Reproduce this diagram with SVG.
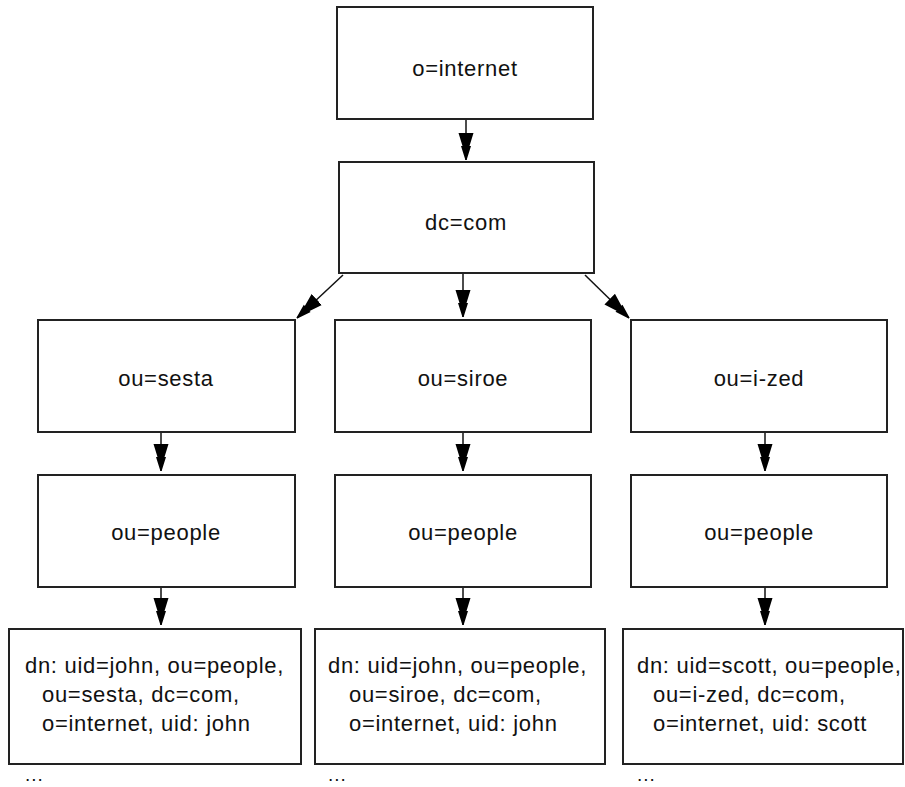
<svg xmlns="http://www.w3.org/2000/svg" width="905" height="787" viewBox="0 0 905 787">
<style>
.box{fill:#fff;stroke:#222;stroke-width:2}
.t{font-family:"Liberation Sans",Arial,sans-serif;font-size:22px;letter-spacing:0.7px;fill:#111}
.c{text-anchor:middle}
.d{font-family:"Liberation Sans",Arial,sans-serif;font-size:19px;letter-spacing:1px;fill:#111}
.e{fill:none;stroke:#111;stroke-width:1.5;marker-end:url(#ah)}
</style>
<defs>
<marker id="ah" markerUnits="userSpaceOnUse" markerWidth="28" markerHeight="16" viewBox="0 -8 28 16" refX="27" refY="0" orient="auto">
<polygon points="0,-7.5 0,7.5 13,3.5 13,5 27,0.6 27,-0.6 13,-5 13,-3.5" fill="#000"/>
</marker>
</defs>
<rect width="905" height="787" fill="#fff"/>
<g id="connectors">
<line class="e" x1="466" y1="119" x2="466" y2="160"/>
<line class="e" x1="463" y1="273" x2="463" y2="317"/>
<line class="e" x1="343" y1="275" x2="297" y2="318"/>
<line class="e" x1="585" y1="275" x2="629" y2="318"/>
<line class="e" x1="161" y1="432" x2="161" y2="471"/>
<line class="e" x1="463" y1="432" x2="463" y2="471"/>
<line class="e" x1="765" y1="432" x2="765" y2="471"/>
<line class="e" x1="161" y1="587" x2="161" y2="625"/>
<line class="e" x1="463" y1="587" x2="463" y2="625"/>
<line class="e" x1="765" y1="587" x2="765" y2="625"/>
</g>
<g id="n-internet"><rect class="box" x="337" y="7" width="256" height="112"/><text class="t c" x="465" y="76">o=internet</text></g>
<g id="n-com"><rect class="box" x="339" y="162" width="255" height="111"/><text class="t c" x="466" y="230">dc=com</text></g>
<g id="n-sesta"><rect class="box" x="38" y="320" width="257" height="112"/><text class="t c" x="166" y="386">ou=sesta</text></g>
<g id="n-siroe"><rect class="box" x="335" y="320" width="256" height="112"/><text class="t c" x="463" y="386">ou=siroe</text></g>
<g id="n-ized"><rect class="box" x="631" y="320" width="256" height="112"/><text class="t c" x="759" y="386">ou=i-zed</text></g>
<g id="n-people1"><rect class="box" x="38" y="475" width="257" height="112"/><text class="t c" x="166" y="540">ou=people</text></g>
<g id="n-people2"><rect class="box" x="335" y="475" width="256" height="112"/><text class="t c" x="463" y="540">ou=people</text></g>
<g id="n-people3"><rect class="box" x="631" y="475" width="256" height="112"/><text class="t c" x="759" y="540">ou=people</text></g>
<g id="n-john1"><rect class="box" x="9" y="629" width="292" height="135"/>
<text class="t" x="25" y="673">dn: uid=john, ou=people,</text>
<text class="t" x="42" y="702">ou=sesta, dc=com,</text>
<text class="t" x="42" y="731">o=internet, uid: john</text></g>
<g id="n-john2"><rect class="box" x="315" y="629" width="290" height="135"/>
<text class="t" x="328" y="673">dn: uid=john, ou=people,</text>
<text class="t" x="349" y="702">ou=siroe, dc=com,</text>
<text class="t" x="349" y="731">o=internet, uid: john</text></g>
<g id="n-scott"><rect class="box" x="623" y="629" width="280" height="135"/>
<text class="t" x="637" y="673">dn: uid=scott, ou=people,</text>
<text class="t" x="653" y="702">ou=i-zed, dc=com,</text>
<text class="t" x="653" y="731">o=internet, uid: scott</text></g>
<g id="more">
<text class="d" x="25" y="781">...</text>
<text class="d" x="328" y="781">...</text>
<text class="d" x="637" y="781">...</text>
</g>
</svg>
